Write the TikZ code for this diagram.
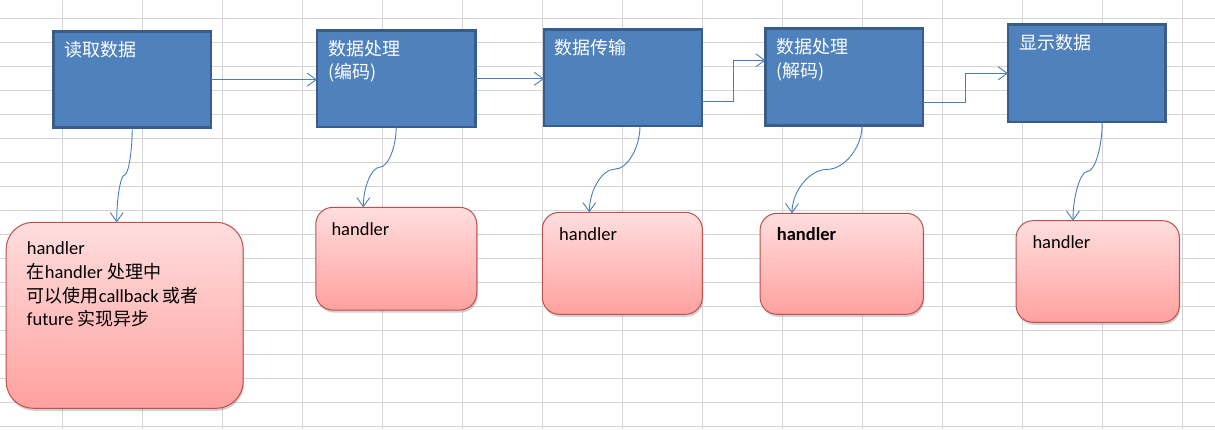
\documentclass[tikz,border=0pt]{standalone}
\usepackage{fontspec}
\setmainfont{Carlito}
\newfontfamily\cjk{Noto Sans CJK SC}
\usetikzlibrary{arrows.meta,calc,shadows}
\definecolor{gridc}{HTML}{D4D4D4}
\definecolor{bfill}{HTML}{4F81BD}
\definecolor{bline}{HTML}{385D8A}
\definecolor{pline}{HTML}{C0504D}
\definecolor{ptop}{HTML}{FFDEDE}
\definecolor{pbot}{HTML}{FFA19F}
\definecolor{conc}{HTML}{4A7EBB}
\newcommand{\cj}[1]{{\cjk\fontsize{18}{23.8}\selectfont #1}}
\begin{document}
\begin{tikzpicture}[x=1pt,y=-1pt,font=\fontsize{18.5}{23.8}\selectfont,
  bluebox/.style={draw=bline,fill=bfill,line width=2.75pt,inner sep=0pt,outer sep=0pt},
  pinkbox/.style={draw=pline,line width=1pt,top color=ptop,bottom color=pbot,inner sep=0pt,outer sep=0pt,
    drop shadow={shadow xshift=1pt,shadow yshift=-2.5pt,opacity=0.3,fill=black!60}},
  btext/.style={text=white,anchor=base west,inner sep=0pt,align=left,font=\cjk\fontsize{18}{23.5}\selectfont},
  ptext/.style={text=black,anchor=base west,inner sep=0pt,align=left},
  con/.style={draw=conc,line width=0.9pt,-{Straight Barb[length=9pt,width=13pt]}},
  curv/.style={to path={let \p1=(\tikztostart), \p2=(\tikztotarget) in
    .. controls (\x1,{\y1*0.75+\y2*0.25}) and ({\x1*0.75+\x2*0.25},{(\y1+\y2)/2}) ..
    ({(\x1+\x2)/2},{(\y1+\y2)/2})
    .. controls ({\x1*0.25+\x2*0.75},{(\y1+\y2)/2}) and (\x2,{\y1*0.25+\y2*0.75}) .. (\x2,\y2)}}]
\useasboundingbox[fill=white] (0,0) rectangle (1215,429);
% grid
\foreach \k in {0,...,14} \draw[gridc,line width=1pt] ({62.3+80*\k},0) -- ({62.3+80*\k},429);
\foreach \k in {0,...,17} \draw[gridc,line width=1pt] (0,{18.3+24*\k}) -- (1215,{18.3+24*\k});
% blue boxes
\node[bluebox,minimum width=157.5pt,minimum height=96.3pt] (b1) at (132.25,79.65) {};
\node[bluebox,minimum width=158.5pt,minimum height=96.5pt] (b2) at (396.2,78.8) {};
\node[bluebox,minimum width=158pt,minimum height=96.5pt] (b3) at (623,77.8) {};
\node[bluebox,minimum width=157.5pt,minimum height=97pt] (b4) at (844.3,77) {};
\node[bluebox,minimum width=157.5pt,minimum height=97.5pt] (b5) at (1086.7,73.3) {};
\node[btext] (tb1) at (64.5,56) {读取数据};
\node[btext] (tb2) at (328,78.5) {数据处理\\(编码)};
\node[btext] (tb3) at (554.5,54.5) {数据传输};
\node[btext] (tb4) at (776.5,77) {数据处理\\(解码)};
\node[btext] (tb5) at (1019,49.5) {显示数据};
% pink boxes
\node[pinkbox,rounded corners=27pt,minimum width=237pt,minimum height=186pt] (p1) at (124.7,315.3) {};
\node[pinkbox,rounded corners=17pt,minimum width=161pt,minimum height=102.7pt] (p2) at (396.3,258.7) {};
\node[pinkbox,rounded corners=17pt,minimum width=160pt,minimum height=102pt] (p3) at (622.3,263.3) {};
\node[pinkbox,rounded corners=17pt,minimum width=163.3pt,minimum height=101pt] (p4) at (841.7,263.8) {};
\node[pinkbox,rounded corners=17pt,minimum width=163.3pt,minimum height=101.6pt] (p5) at (1097.7,271.5) {};
\node[ptext] (tp1) at (26.7,325.8) {handler\\\cj{在}handler \cj{处理中}\\\cj{可以使用}callback \cj{或者}\\future \cj{实现异步}};
\node[ptext] (tp2) at (331.3,235) {handler};
\node[ptext] (tp3) at (559,240) {handler};
\node[ptext,font={\fontsize{18.5}{23.8}\selectfont\bfseries}] (tp4) at (776.7,240) {handler};
\node[ptext] (tp5) at (1032.3,248.3) {handler};
% connectors
\draw[con] (b1.east) -- (b1.east -| b2.west);
\draw[con] (b2.east) -- (b2.east -| b3.west);
\coordinate (c34a) at ($(b3.east)+(0,23.2)$);
\coordinate (c34b) at ($(b4.west)+(0,-16.7)$);
\draw[con] (c34a) -| ($(c34a)!0.5!(c34b)$) |- (c34b);
\coordinate (c45a) at ($(b4.east)+(0,25.7)$);
\draw[con] (c45a) -| ($(c45a)!0.5!(b5.west)$) |- (b5.west);
\coordinate (s1) at (b1.south);
\coordinate (s2) at (b2.south);
\coordinate (s3) at ($(b3.south)+(17,0)$);
\coordinate (s4) at ($(b4.south)+(17.7,0)$);
\coordinate (s5) at ($(b5.south)+(15.5,0)$);
\coordinate (e1) at ($(p1.north)+(-8,0)$);
\coordinate (e2) at ($(p2.north)+(-33,0)$);
\coordinate (e3) at ($(p3.north)+(-33,0)$);
\coordinate (e4) at ($(p4.north)+(-49.7,0)$);
\coordinate (e5) at ($(p5.north)+(-24.7,0)$);
\foreach \i in {1,...,5} \draw[con] (s\i) to[curv] (e\i);
\end{tikzpicture}
\end{document}
